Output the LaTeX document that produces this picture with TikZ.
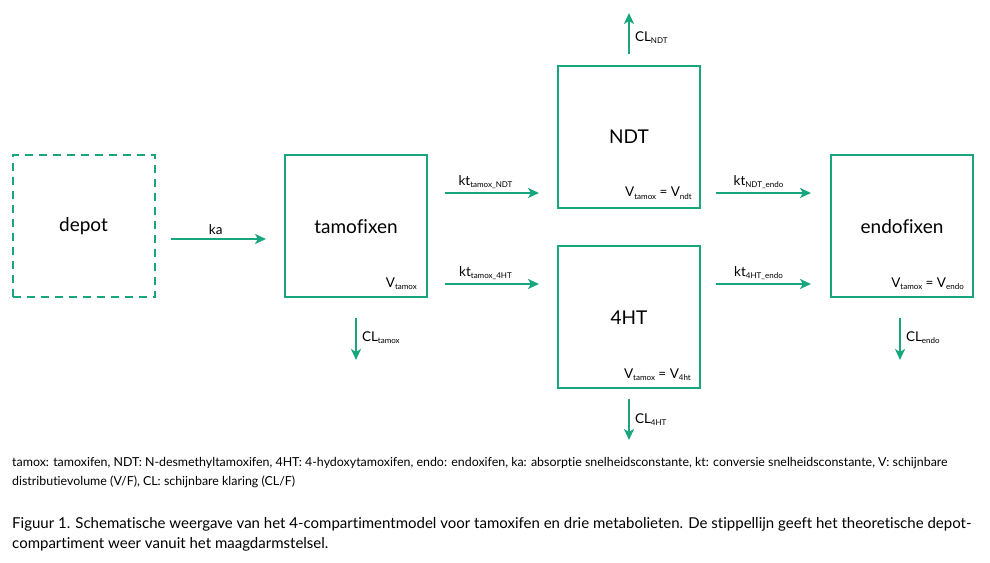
\documentclass[tikz,border=0pt]{standalone}
\usepackage{fontspec}
\setmainfont{Lato}[Ligatures=NoCommon]
\usetikzlibrary{arrows.meta}
\definecolor{pkgreen}{RGB}{24,166,126}
\newcommand{\subtxt}[1]{\raisebox{-2.4pt}{\fontsize{8}{9}\selectfont #1}}

\begin{document}
\begin{tikzpicture}[
    x=1pt, y=1pt,
    font=\fontsize{19}{22}\selectfont,
    comp/.style={rectangle, draw=pkgreen, line width=2pt, minimum width=142pt, minimum height=142pt, inner sep=0pt},
    depotbox/.style={comp, dash pattern=on 8pt off 6pt},
    flow/.style={-{Stealth[length=11pt, width=10pt, inset=3pt]}, draw=pkgreen, line width=2pt},
    rate/.style={font=\fontsize{13.5}{15}\selectfont, inner sep=3pt},
    vol/.style={font=\fontsize{13.5}{15}\selectfont, anchor=base east, inner sep=0pt},
    legend/.style={font=\fontsize{12.4}{14}\selectfont, anchor=base west, inner sep=0pt},
    caption/.style={font=\fontsize{15}{17}\selectfont, anchor=base west, inner sep=0pt}
  ]
  \useasboundingbox (0,0) rectangle (990,562);

  % Compartments
  \node[depotbox] (depot) at (83.5,335.5) {depot};
  \node[comp] (tamo) at (356,335.5) {tamofixen};
  \node[comp] (ndt) at (629,425) {NDT};
  \node[comp] (fourht) at (629,244.5) {4HT};
  \node[comp] (endo) at (902,335.5) {endofixen};

  % Volumes
  \node[vol] (vtamo) at ([shift={(-11,11)}]tamo.south east) {V\subtxt{tamox}};
  \node[vol] (vndt) at ([shift={(-9,12)}]ndt.south east) {V\subtxt{tamox} = V\subtxt{ndt}};
  \node[vol] (vfourht) at ([shift={(-10,11)}]fourht.south east) {V\subtxt{tamox} = V\subtxt{4ht}};
  \node[vol] (vendo) at ([shift={(-10,11)}]endo.south east) {V\subtxt{tamox} = V\subtxt{endo}};

  % Free ends of the clearance arrows
  \coordinate (clndt) at (629,549);
  \coordinate (cltamo) at (356,202);
  \coordinate (clfourht) at (629,122);
  \coordinate (clendo) at (900,202);

  % Absorption and conversion
  \draw[flow, shorten <=15pt, shorten >=18pt] (depot.east |- 0,323) -- (tamo.west |- 0,323) node[rate, midway, above, xshift=-4pt] {ka};
  \draw[flow, shorten <=17pt, shorten >=18pt] (tamo.east |- 0,369) -- (ndt.west |- 0,369) node[rate, midway, above, xshift=-7pt] {kt\subtxt{tamox\_NDT}};
  \draw[flow, shorten <=17pt, shorten >=18pt] (tamo.east |- 0,278) -- (fourht.west |- 0,278) node[rate, midway, above, xshift=-7pt] {kt\subtxt{tamox\_4HT}};
  \draw[flow, shorten <=15pt, shorten >=19pt] (ndt.east |- 0,369) -- (endo.west |- 0,369) node[rate, midway, above, xshift=-7pt] {kt\subtxt{NDT\_endo}};
  \draw[flow, shorten <=15pt, shorten >=19pt] (fourht.east |- 0,278) -- (endo.west |- 0,278) node[rate, midway, above, xshift=-7pt] {kt\subtxt{4HT\_endo}};

  % Clearance
  \draw[flow, shorten <=11pt] (ndt.north) -- (clndt) node[rate, pos=0.53, right, xshift=2pt] {CL\subtxt{NDT}};
  \draw[flow, shorten <=20pt] (tamo.south) -- (cltamo) node[rate, pos=0.64, right, xshift=2pt] {CL\subtxt{tamox}};
  \draw[flow, shorten <=10pt] (fourht.south) -- (clfourht) node[rate, pos=0.6, right, xshift=2pt] {CL\subtxt{4HT}};
  \draw[flow, shorten <=20pt] (endo.south -| clendo) -- (clendo) node[rate, pos=0.64, right, xshift=2pt] {CL\subtxt{endo}};

  % Legend and caption
  \node[legend] (leg1) at (12,95) {tamox: tamoxifen, NDT: N-desmethyltamoxifen, 4HT: 4-hydoxytamoxifen, endo: endoxifen, ka: absorptie snelheidsconstante, kt: conversie snelheidsconstante, V: schijnbare};
  \node[legend] (leg2) at (12,76) {distributievolume (V/F), CL: schijnbare klaring (CL/F)};
  \node[caption] (cap1) at (12,34) {Figuur 1. Schematische weergave van het 4-compartimentmodel voor tamoxifen en drie metabolieten. De stippellijn geeft het theoretische depot-};
  \node[caption] (cap2) at (12,13) {compartiment weer vanuit het maagdarmstelsel.};

\end{tikzpicture}
\end{document}
